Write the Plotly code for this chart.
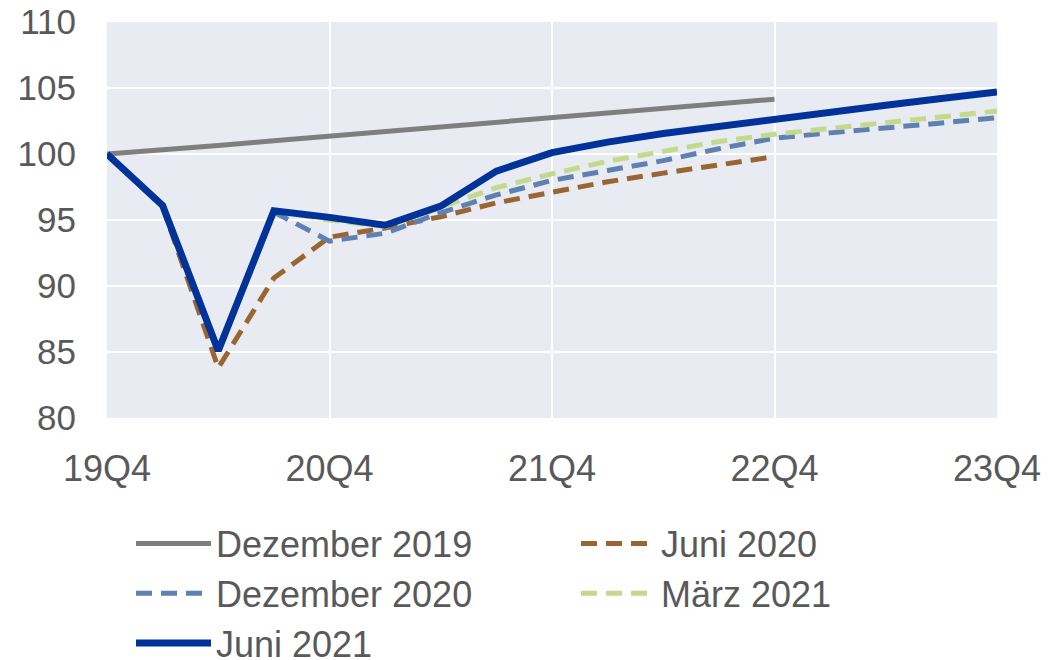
import plotly.graph_objects as go

quarters = ["19Q4", "20Q1", "20Q2", "20Q3", "20Q4", "21Q1", "21Q2", "21Q3", "21Q4",
            "22Q1", "22Q2", "22Q3", "22Q4", "23Q1", "23Q2", "23Q3", "23Q4"]
tick_labels = ["19Q4", "20Q4", "21Q4", "22Q4", "23Q4"]

dez2019 = [100.0, 100.3, 100.65, 101.0, 101.35, 101.7, 102.05, 102.4, 102.75,
           103.1, 103.45, 103.8, 104.15, None, None, None, None]
juni2020 = [100.0, 96.0, 83.8, 90.6, 93.7, 94.4, 95.25, 96.3, 97.1,
            97.9, 98.55, 99.2, 99.8, None, None, None, None]
dez2020 = [None, None, None, 95.6, 93.4, 94.0, 95.55, 96.9, 98.0,
           98.75, 99.5, 100.4, 101.2, 101.6, 101.95, 102.35, 102.75]
maerz2021 = [None, None, None, 95.7, 95.0, 94.5, 96.0, 97.45, 98.5,
             99.45, 100.2, 100.95, 101.5, 101.95, 102.4, 102.85, 103.25]
juni2021 = [100.0, 96.1, 85.1, 95.7, 95.2, 94.6, 96.05, 98.7, 100.1,
            100.9, 101.55, 102.1, 102.7, 103.2, 103.7, 104.2, 104.7]

series = [
    ("Dezember 2019", dez2019, "#7f7f7f", "solid", 5),
    ("Juni 2020", juni2020, "#996633", "16px,9px", 5),
    ("Dezember 2020", dez2020, "#5f80b2", "16px,9px", 5),
    ("März 2021", maerz2021, "#c3d98c", "16px,9px", 5),
    ("Juni 2021", juni2021, "#003399", "solid", 7),
]

fig = go.Figure()
for name, vals, color, dash, width in series:
    fig.add_trace(go.Scatter(
        x=quarters, y=vals, name=name, mode="lines",
        line=dict(color=color, dash=dash, width=width),
        connectgaps=False,
    ))

font_family = "Liberation Sans, Arial, sans-serif"
fig.update_layout(
    width=1048, height=660,
    margin=dict(l=107, r=51, t=22, b=242, autoexpand=False),
    paper_bgcolor="white",
    plot_bgcolor="#e8ebf2",
    font=dict(family=font_family, size=36, color="#595959"),
    showlegend=True,
    legend=dict(
        orientation="h",
        xref="container", yref="container",
        x=0.125, y=0.222, xanchor="left", yanchor="top",
        itemwidth=75,
        entrywidth=355, entrywidthmode="pixels",
        font=dict(family=font_family, size=36, color="#595959"),
        bgcolor="rgba(0,0,0,0)",
        traceorder="normal",
    ),
    xaxis=dict(
        type="category",
        categoryorder="array", categoryarray=quarters,
        range=[0, 16], automargin=False,
        tickmode="array", tickvals=tick_labels, ticktext=tick_labels,
        showgrid=True, gridcolor="white", gridwidth=2,
        zeroline=False, showline=False,
        ticks="", ticklabelstandoff=26,
        tickfont=dict(family=font_family, size=36, color="#595959"),
    ),
    yaxis=dict(
        range=[80, 110], tickmode="linear", tick0=80, dtick=5,
        automargin=False,
        showgrid=True, gridcolor="white", gridwidth=2,
        zeroline=False, showline=False,
        ticks="", ticklabelstandoff=30,
        tickfont=dict(family=font_family, size=35, color="#595959"),
    ),
)

fig.write_html("out.html")
